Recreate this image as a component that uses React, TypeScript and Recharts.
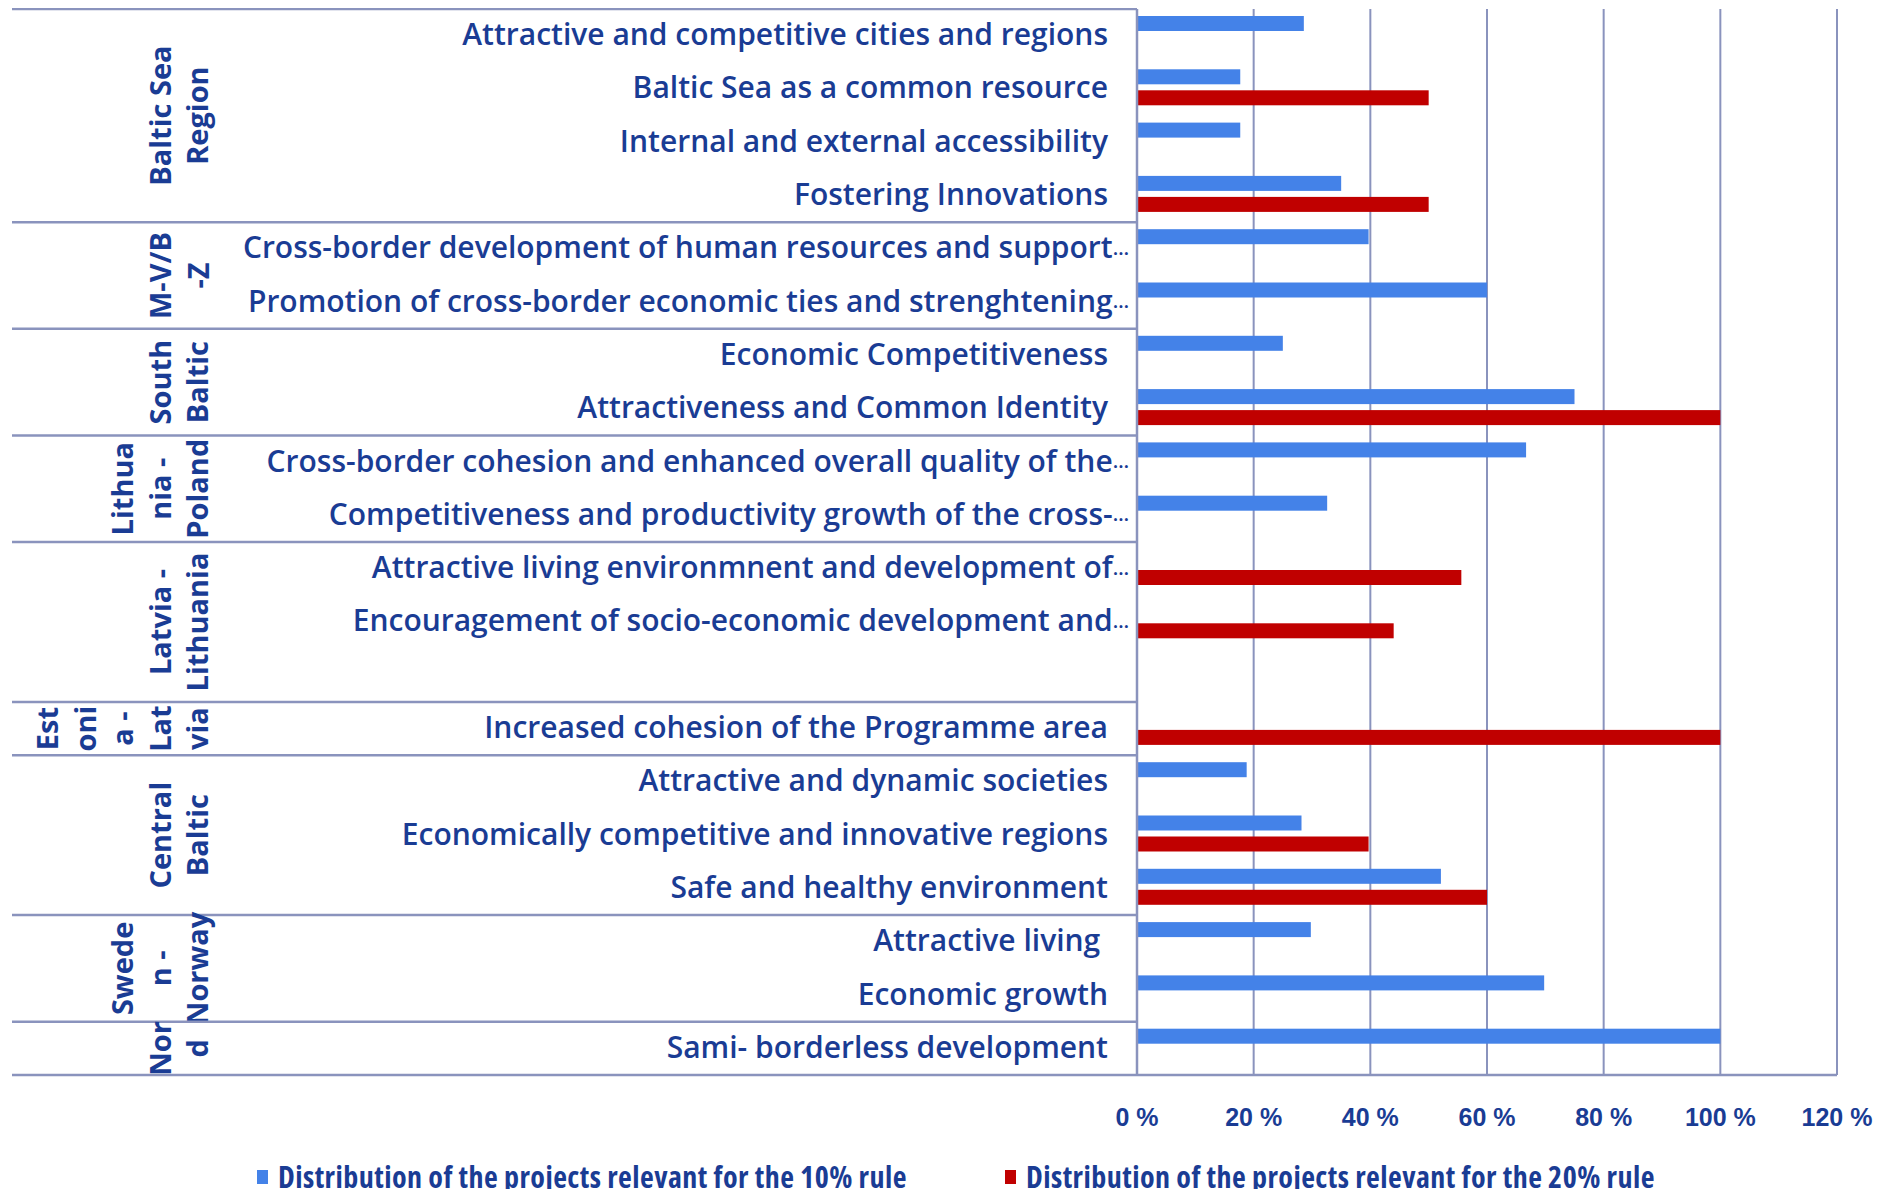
import React from 'react';
import { BarChart, Bar, XAxis, YAxis, CartesianGrid, Legend } from 'recharts';

// one row per priority, top to bottom ('' = empty row in the Latvia - Lithuania block)
const categories = [
  'Attractive and competitive cities and regions',
  'Baltic Sea as a common resource',
  'Internal and external accessibility',
  'Fostering Innovations',
  'Cross-border development of human resources and support…',
  'Promotion of cross-border economic ties and strenghtening…',
  'Economic Competitiveness',
  'Attractiveness and Common Identity',
  'Cross-border cohesion and enhanced overall quality of the…',
  'Competitiveness and productivity growth of the cross-…',
  'Attractive living environmnent and development of…',
  'Encouragement of socio-economic development and…',
  '',
  'Increased cohesion of the Programme area',
  'Attractive and dynamic societies',
  'Economically competitive and innovative regions',
  'Safe and healthy environment',
  'Attractive living ',
  'Economic growth',
  'Sami- borderless development',
];

const rule10 = [28.6, 17.7, 17.7, 35, 39.7, 60, 25, 75, 66.7, 32.6, null, null, null, null, 18.8, 28.2, 52.1, 29.8, 69.8, 100];
const rule20 = [null, 50, null, 50, null, null, null, 100, null, null, 55.6, 44, null, 100, null, 39.7, 60, null, null, null];

// programme groups: wrapped label lines and number of rows
const groupLabels = [
  ['Baltic Sea', 'Region'],
  ['M-V/B', '-Z'],
  ['South', 'Baltic'],
  ['Lithua', 'nia -', 'Poland'],
  ['Latvia -', 'Lithuania'],
  ['Est', 'oni', 'a -', 'Lat', 'via'],
  ['Central', 'Baltic'],
  ['Swede', 'n -', 'Norway'],
  ['Nor', 'd'],
];
const groupSizes = [4, 2, 2, 2, 3, 1, 3, 2, 1];

const xTicks = [0, 20, 40, 60, 80, 100, 120];

const seriesNames = [
  'Distribution of the projects relevant for the 10% rule',
  'Distribution of the projects relevant for the 20% rule',
];

const data = categories.map((name, i) => ({ name, rule10: rule10[i], rule20: rule20[i] }));

const groupStarts: Record<number, number> = {};
let acc = 0;
groupSizes.forEach((s, g) => {
  groupStarts[acc] = g;
  acc += s;
});

const W = 1878;
const H = 1195;
const PLOT_TOP = 1;
const PLOT_BOTTOM = 1067;
const AXIS_X = 1129;
const BAND = (PLOT_BOTTOM - PLOT_TOP) / categories.length;

const INK = '#1A3C94';
const GRID = '#8A93BD';
const BLUE = '#4482E8';
const RED = '#C00000';
const LABEL_FONT = '"Open Sans", sans-serif';

const CategoryTick = (props: any) => {
  const { x, y } = props;
  const i = props.index ?? props.payload?.index ?? 0;
  const name = categories[i];
  const truncated = name.endsWith('…');
  const g = groupStarts[i];
  const parts: React.ReactNode[] = [];

  parts.push(
    <text
      key="t"
      x={truncated ? x - 8 : x - 29}
      y={y - 2}
      textAnchor="end"
      dominantBaseline="central"
      fill={INK}
      fontSize={30}
      fontWeight={600}
      fontFamily={LABEL_FONT}
      style={{ whiteSpace: 'pre' }}
    >
      {truncated ? name.slice(0, -1) : name}
      {truncated && <tspan fontSize={20}>…</tspan>}
    </text>
  );

  if (g !== undefined) {
    const top = y - BAND / 2;
    parts.push(<line key="l" x1={4} x2={x} y1={top} y2={top} stroke={GRID} strokeWidth={2.5} />);
    const lines = groupLabels[g];
    const cy = top + (groupSizes[g] * BAND) / 2;
    lines.forEach((ln, j) => {
      const cx = 189 - (lines.length - 1 - j) * 37.5;
      parts.push(
        <text
          key={'g' + j}
          x={cx}
          y={cy}
          transform={`rotate(-90, ${cx}, ${cy})`}
          textAnchor="middle"
          dominantBaseline="central"
          fill={INK}
          fontSize={29}
          fontWeight={700}
          fontFamily={LABEL_FONT}
        >
          {ln}
        </text>
      );
    });
  }
  if (i === categories.length - 1) {
    const bottom = y + BAND / 2;
    parts.push(<line key="b" x1={4} x2={x} y1={bottom} y2={bottom} stroke={GRID} strokeWidth={2.5} />);
  }
  return <g>{parts}</g>;
};

const PercentTick = (props: any) => {
  const { x, y, payload } = props;
  return (
    <text
      x={x}
      y={y + 42}
      textAnchor="middle"
      dominantBaseline="central"
      fill={INK}
      fontSize={25}
      fontWeight={700}
      fontFamily='"Liberation Sans", Arial, sans-serif'
    >
      {payload.value} %
    </text>
  );
};

// bars sit a little above the band centre in the original
const LiftedBar = (props: any) => {
  const { x, y, width, height, fill } = props;
  if (!width || width <= 0) return null;
  return <rect x={x} y={y - 2} width={width} height={height} fill={fill} />;
};

const LegendBox = () => (
  <div style={{ position: 'relative', width: W, height: 50 }}>
    {[BLUE, RED].map((c, k) => (
      <div
        key={k}
        style={{
          position: 'absolute',
          left: k === 0 ? 249 : 997,
          top: 4,
          display: 'flex',
          alignItems: 'center',
          whiteSpace: 'nowrap',
        }}
      >
        <span style={{ display: 'inline-block', width: 11, height: 14, background: c, marginRight: 10 }} />
        <span
          style={{
            color: INK,
            fontFamily: LABEL_FONT,
            fontWeight: 700,
            fontSize: 30,
            lineHeight: '40px',
            fontStretch: 'condensed',
            letterSpacing: 0.45,
          }}
        >
          {seriesNames[k]}
        </span>
      </div>
    ))}
  </div>
);

export default function App() {
  return (
    <div style={{ width: W, height: 1189, marginBottom: -8, overflow: 'hidden', background: '#fff' }}>
      <BarChart
        width={W}
        height={H}
        data={data}
        layout="vertical"
        margin={{ top: PLOT_TOP, right: W - 1829, bottom: 0, left: 0 }}
        barSize={15}
        barGap={6}
      >
        <CartesianGrid horizontal={false} stroke={GRID} strokeWidth={2} />
        <XAxis
          type="number"
          domain={[0, 120]}
          ticks={xTicks}
          interval={0}
          height={H - PLOT_BOTTOM - 50}
          tickLine={false}
          tickSize={0}
          tickMargin={0}
          axisLine={{ stroke: GRID, strokeWidth: 2.5 }}
          tick={<PercentTick />}
        />
        <YAxis
          type="category"
          dataKey="name"
          width={AXIS_X}
          interval={0}
          tickLine={false}
          tickSize={0}
          tickMargin={0}
          axisLine={{ stroke: GRID, strokeWidth: 2.5 }}
          tick={<CategoryTick />}
        />
        <Legend verticalAlign="bottom" content={<LegendBox />} wrapperStyle={{ left: 0, width: W }} />
        <Bar dataKey="rule10" name={seriesNames[0]} fill={BLUE} shape={<LiftedBar />} isAnimationActive={false} />
        <Bar dataKey="rule20" name={seriesNames[1]} fill={RED} shape={<LiftedBar />} isAnimationActive={false} />
      </BarChart>
    </div>
  );
}
